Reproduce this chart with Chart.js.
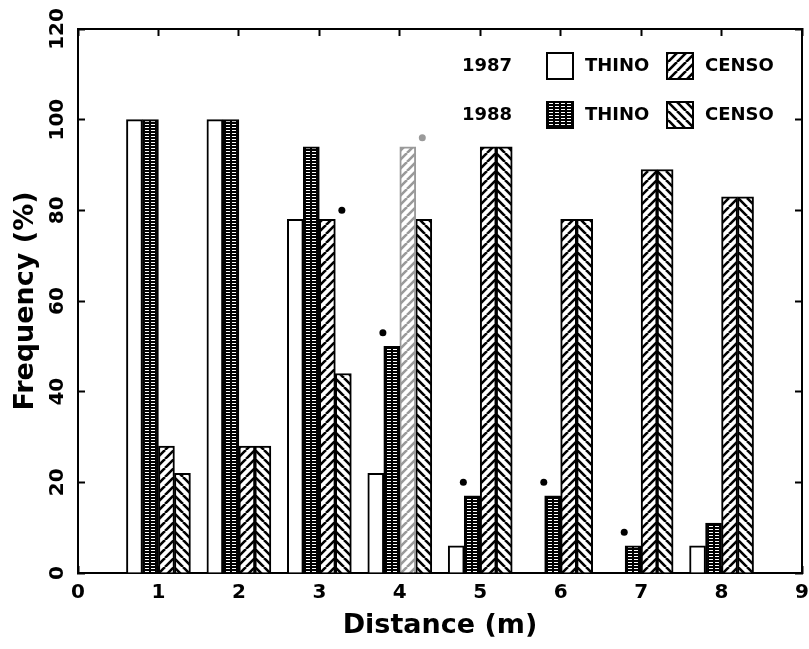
<!DOCTYPE html>
<html>
<head>
<meta charset="utf-8">
<script src="https://cdn.jsdelivr.net/npm/chart.js@4.4.1/dist/chart.umd.min.js"></script>
<style>
  html, body { margin: 0; padding: 0; background: #fff; }
  #wrap { width: 809px; height: 649px; }
</style>
</head>
<body>
<div id="wrap"><canvas id="chart" width="809" height="649"></canvas></div>
<script>
// Frequency (%) of detections by distance (m), two species, two years
const distances = [1, 2, 3, 4, 5, 6, 7, 8];
const thino1987 = [100, 100, 78, 22, 6, 0, 0, 6];
const thino1988 = [100, 100, 94, 50, 17, 17, 6, 11];
const censo1987 = [28, 28, 78, 94, 94, 78, 89, 83];
const censo1988 = [22, 28, 44, 78, 94, 78, 89, 83];

// significance marks (*)
const starThino1988 = [4, 5, 6, 7];
const starCenso1987 = [3, 4];

const years = ['1987', '1988'];
const species = ['THINO', 'CENSO'];

const fadedDistance = 4; // washed-out bar in the scan
const FONT = '"DejaVu Sans", sans-serif';
const GREY = '#9a9a9a';

// Pattern helpers
function makePattern(kind, ink) {
    const c = document.createElement('canvas');
    const g = c.getContext('2d');
    if (kind === 'grid') {
        c.width = 6; c.height = 3;
        g.fillStyle = ink; g.fillRect(0, 0, 6, 3);
        g.fillStyle = '#fff'; g.fillRect(1, 1, 4, 1);
    } else {
        const s = 9;
        c.width = s; c.height = s;
        g.fillStyle = '#fff'; g.fillRect(0, 0, s, s);
        g.strokeStyle = ink; g.lineWidth = 2.6;
        g.beginPath();
        for (const o of [-s, 0, s]) {
            if (kind === 'up') { g.moveTo(o, s); g.lineTo(o + s, 0); }
            else { g.moveTo(o, 0); g.lineTo(o + s, s); }
        }
        g.stroke();
    }
    return g.createPattern(c, 'repeat');
}

// anchor each bar's pattern so the two hatches meet as chevrons
function barFill(kind, anchor) {
    return (ctx) => {
        if (kind === 'plain') return '#fff';
        if (ctx.type !== 'data') return makePattern(kind, '#000');
        const d = ctx.raw.x;
        const ink = (kind === 'up' && d === fadedDistance) ? GREY : '#000';
        const p = makePattern(kind, ink);
        const px = Math.round(ctx.chart.scales.x.getPixelForValue(d));
        p.setTransform(new DOMMatrix().translate(px + anchor, 0));
        return p;
    };
}

function toPoints(values) {
    return distances.map((d, i) => ({ x: d, y: values[i] }));
}

const barCommon = {
    type: 'bar',
    xAxisID: 'x',
    yAxisID: 'y',
    barThickness: 16,
    borderWidth: 2,
    borderSkipped: 'start'
};

const starPoints = [
    ...starThino1988.map(d => ({ x: d - 0.21, y: thino1988[d - 1] + 3 })),
    ...starCenso1987.map(d => ({ x: d + 0.28, y: censo1987[d - 1] + 2 }))
];
const starColors = [
    ...starThino1988.map(() => '#000'),
    ...starCenso1987.map(d => d === fadedDistance ? GREY : '#000')
];

// Custom two-row legend (year x species)
const legendKinds = [['plain', 'up'], ['grid', 'down']];
const pairLegend = {
    id: 'pairLegend',
    afterDraw(chart) {
        const { ctx } = chart;
        ctx.save();
        ctx.font = 'bold 18px ' + FONT;
        ctx.textBaseline = 'middle';
        ctx.textAlign = 'left';
        years.forEach((yr, r) => {
            const cy = 66 + r * 49;
            ctx.fillStyle = '#000';
            ctx.fillText(yr, 462, cy);
            species.forEach((sp, c) => {
                const bx = 547 + c * 120;
                const kind = legendKinds[r][c];
                let fill = '#fff';
                if (kind !== 'plain') {
                    fill = makePattern(kind, '#000');
                    fill.setTransform(new DOMMatrix().translate(bx + 1, cy - 13));
                }
                ctx.fillStyle = fill;
                ctx.fillRect(bx, cy - 13, 26, 26);
                ctx.strokeStyle = '#000';
                ctx.lineWidth = 2;
                ctx.strokeRect(bx, cy - 13, 26, 26);
                ctx.fillStyle = '#000';
                ctx.fillText(sp, bx + 38, cy);
            });
        });
        ctx.restore();
    }
};

const tickGrid = {
    drawOnChartArea: false,
    offset: false,
    tickLength: -7,
    tickWidth: 2,
    tickColor: '#000'
};
const axisBorder = { display: true, color: '#000', width: 2 };

// fixed box sizes, no extra room for the end labels
function fixHeight(h) {
    return s => { s.height = h; s.paddingLeft = 0; s.paddingRight = 0; };
}
function fixWidth(w) {
    return s => { s.width = w; s.paddingTop = 0; s.paddingBottom = 0; };
}

const chart = new Chart(document.getElementById('chart').getContext('2d'), {
    type: 'bar',
    data: {
        datasets: [
            { ...barCommon, label: years[0] + ' ' + species[0], data: toPoints(thino1987),
              backgroundColor: barFill('plain', 0), borderColor: '#000' },
            { ...barCommon, label: years[1] + ' ' + species[0], data: toPoints(thino1988),
              backgroundColor: barFill('grid', -14), borderColor: '#000' },
            { ...barCommon, label: years[0] + ' ' + species[1], data: toPoints(censo1987),
              backgroundColor: barFill('up', 16),
              borderColor: ctx => (ctx.raw && ctx.raw.x === fadedDistance) ? GREY : '#000' },
            { ...barCommon, label: years[1] + ' ' + species[1], data: toPoints(censo1988),
              backgroundColor: barFill('down', 16), borderColor: '#000' },
            {
                type: 'scatter',
                label: '*',
                xAxisID: 'x',
                yAxisID: 'y',
                data: starPoints,
                pointRadius: 3.5,
                pointBorderWidth: 0,
                pointBackgroundColor: starColors,
                showLine: false
            }
        ]
    },
    options: {
        responsive: false,
        animation: false,
        devicePixelRatio: 1,
        layout: { padding: 0 },
        plugins: {
            legend: { display: false },
            tooltip: { enabled: false }
        },
        scales: {
            x: {
                type: 'linear',
                position: 'bottom',
                min: 0,
                max: 9,
                offset: false,
                grid: tickGrid,
                border: axisBorder,
                ticks: {
                    stepSize: 1,
                    autoSkip: false,
                    maxRotation: 0,
                    color: '#000',
                    padding: 15,
                    font: { family: FONT, size: 20, weight: 'bold' }
                },
                title: {
                    display: true,
                    text: 'Distance (m)',
                    color: '#000',
                    font: { family: FONT, size: 27, weight: 'bold' },
                    padding: { top: 0, bottom: 7 }
                },
                afterFit: fixHeight(76)
            },
            xTop: {
                type: 'linear',
                position: 'top',
                min: 0,
                max: 9,
                offset: false,
                grid: tickGrid,
                border: axisBorder,
                ticks: { display: false, stepSize: 1 },
                afterFit: fixHeight(29)
            },
            y: {
                type: 'linear',
                position: 'left',
                min: 0,
                max: 120,
                grid: tickGrid,
                border: axisBorder,
                ticks: {
                    stepSize: 20,
                    minRotation: 90,
                    maxRotation: 90,
                    crossAlign: 'center',
                    padding: 6,
                    color: '#000',
                    font: { family: FONT, size: 20, weight: 'bold' }
                },
                title: {
                    display: true,
                    text: 'Frequency (%)',
                    color: '#000',
                    font: { family: FONT, size: 27, weight: 'bold' },
                    padding: { top: 10, bottom: 0 }
                },
                afterFit: fixWidth(78)
            },
            yRight: {
                type: 'linear',
                position: 'right',
                min: 0,
                max: 120,
                grid: tickGrid,
                border: axisBorder,
                ticks: { display: false, stepSize: 20 },
                afterFit: fixWidth(7)
            }
        }
    },
    plugins: [pairLegend]
});
</script>
</body>
</html>
